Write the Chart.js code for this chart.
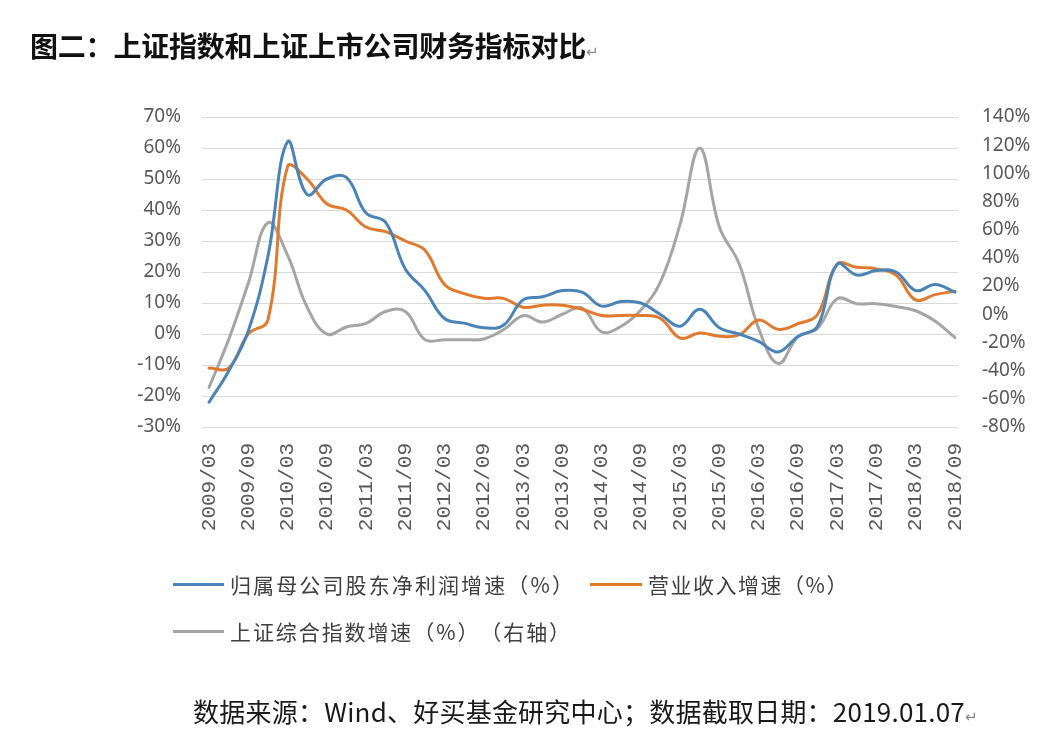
<!DOCTYPE html>
<html>
<head>
<meta charset="utf-8">
<script src="https://cdn.jsdelivr.net/npm/chart.js@4.4.1/dist/chart.umd.min.js"></script>
<style>
  html, body { margin: 0; padding: 0; background: #ffffff; }
  #wrap { position: relative; width: 1060px; height: 738px; overflow: hidden; background: #fff; text-spacing-trim: space-all; }
  #c { position: absolute; left: 0; top: 0; }
  .txt { position: absolute; white-space: nowrap; line-height: 1; font-family: "Noto Sans CJK SC", sans-serif; }
  #title { left: 30px; top: 31px; font-size: 28px; font-weight: 700; color: #111; }
  #footer { left: 193px; top: 698px; font-size: 26px; color: #1a1a1a; }
  .ret { font-family: "DejaVu Sans", sans-serif; font-size: 15px; color: #888; font-weight: 400; letter-spacing: 0; }
  .leg { position: absolute; white-space: nowrap; font-family: "Noto Sans CJK SC", sans-serif; font-size: 21px; color: #404040; line-height: 22px; height: 22px; }
  .sw { position: absolute; height: 3px; }
</style>
</head>
<body>
<div id="wrap">
  <canvas id="c" width="1060" height="738"></canvas>
  <div id="title" class="txt"><span class="fit" data-w="556">图二：上证指数和上证上市公司财务指标对比</span><span class="ret">↵</span></div>
  <div id="legend"></div>
  <div id="footer" class="txt"><span class="fit" data-w="772">数据来源：Wind、好买基金研究中心；数据截取日期：2019.01.07</span><span class="ret">↵</span></div>
</div>
<script>
// Quarterly periods 2009/03 .. 2018/09
const periods = [
  "2009/03","2009/06","2009/09","2009/12",
  "2010/03","2010/06","2010/09","2010/12",
  "2011/03","2011/06","2011/09","2011/12",
  "2012/03","2012/06","2012/09","2012/12",
  "2013/03","2013/06","2013/09","2013/12",
  "2014/03","2014/06","2014/09","2014/12",
  "2015/03","2015/06","2015/09","2015/12",
  "2016/03","2016/06","2016/09","2016/12",
  "2017/03","2017/06","2017/09","2017/12",
  "2018/03","2018/06","2018/09"
];
// labelled ticks (every half year)
const tickLabels = ["2009/03","2009/09","2010/03","2010/09","2011/03","2011/09","2012/03","2012/09",
  "2013/03","2013/09","2014/03","2014/09","2015/03","2015/09","2016/03","2016/09","2017/03","2017/09",
  "2018/03","2018/09"];

// 归属母公司股东净利润增速（%） - left axis
const netProfitGrowth = [
  -22, -12, 1, 25,
  62, 45, 50, 50.5,
  39, 36, 21, 14,
  5, 3.5, 2, 2.8,
  11, 12, 14, 13.5,
  9, 10.5, 10, 6.3,
  2.5, 8, 2, 0,
  -2.4, -5.8, -0.8, 2.5,
  22.5, 19, 20.5, 20,
  14, 16, 13.5
];
// 营业收入增速（%） - left axis
const revenueGrowth = [
  -11, -11, 0, 4.5,
  54, 50, 42, 40,
  34.5, 33, 30, 27,
  16, 13, 11.5, 11.5,
  8.6, 9.3, 9.3, 8,
  6, 6, 6, 5,
  -1.3, 0.3, -0.7, -0.3,
  4.5, 1.5, 3.3, 6.3,
  22.5, 21.5, 21, 19,
  11, 12.7, 13.8
];
// 上证综合指数增速（%）（右轴） - right axis
const sseIndexGrowth = [
  -52, -18, 22, 65,
  42, 5, -14, -9,
  -6.5, 2, 2, -18,
  -18, -18, -17.5, -11,
  -1, -5.5, 0, 4.5,
  -12.5, -8.5, 3, 23,
  64, 118, 62, 36,
  -10, -35, -16, -10,
  11, 7.5, 7.5, 5.5,
  2.5, -5, -16.6
];

const seriesNames = ["归属母公司股东净利润增速（%）", "营业收入增速（%）", "上证综合指数增速（%）（右轴）"];
const seriesColors = ["#4a84b6", "#e07a2f", "#a5a5a5"];

const leftTicks = [-30, 70, 10];
const rightTicks = [-80, 140, 20];

function toXY(arr) { return arr.map((v, i) => ({ x: i, y: v })); }

const tickFontAxis = { family: "'Noto Sans', sans-serif", size: 19 };

const chart = new Chart(document.getElementById('c'), {
  type: 'line',
  data: {
    datasets: [
      { label: seriesNames[0], data: toXY(netProfitGrowth), borderColor: seriesColors[0], yAxisID: 'y', order: 1 },
      { label: seriesNames[1], data: toXY(revenueGrowth), borderColor: seriesColors[1], yAxisID: 'y', order: 2 },
      { label: seriesNames[2], data: toXY(sseIndexGrowth), borderColor: seriesColors[2], yAxisID: 'y1', order: 3 }
    ]
  },
  options: {
    responsive: false,
    devicePixelRatio: 1,
    animation: false,
    layout: { padding: { top: 117, left: 0, right: 0, bottom: 0 } },
    elements: {
      line: { borderWidth: 3, tension: 0.4, fill: false, borderCapStyle: 'round', borderJoinStyle: 'round' },
      point: { radius: 0, hoverRadius: 0 }
    },
    plugins: { legend: { display: false }, tooltip: { enabled: false }, title: { display: false } },
    scales: {
      x: {
        type: 'linear',
        min: -0.357,
        max: 38.156,
        grid: { display: false, drawTicks: false },
        border: { display: false },
        afterBuildTicks: (s) => { s.ticks = tickLabels.map(l => ({ value: periods.indexOf(l) })); },
        afterFit: (s) => { s.height = 738 - 427; },
        ticks: {
          autoSkip: false,
          minRotation: 90,
          maxRotation: 90,
          padding: 16,
          color: '#595959',
          font: { family: "'Liberation Mono', monospace", size: 21 },
          callback: (v) => periods[v]
        }
      },
      y: {
        position: 'left',
        min: leftTicks[0], max: leftTicks[1],
        grid: { color: '#d9d9d9', lineWidth: 1, drawTicks: false },
        border: { display: false },
        afterFit: (s) => { s.width = 202; },
        ticks: { stepSize: leftTicks[2], padding: 21, color: '#595959', font: tickFontAxis, callback: (v) => v + '%' }
      },
      y1: {
        position: 'right',
        min: rightTicks[0], max: rightTicks[1],
        grid: { display: false, drawTicks: false },
        border: { display: false },
        afterFit: (s) => { s.width = 1060 - 958; },
        ticks: { stepSize: rightTicks[2], padding: 24, color: '#595959', font: tickFontAxis, callback: (v) => v + '%' }
      }
    }
  }
});

// HTML legend built from series names/colors: [swatchLeft, swatchRight, textLeft, textWidth, centerY]
const legendLayout = [[173, 224, 230, 345, 584], [590, 642, 648, 201, 584], [173, 224, 230, 342, 631]];
const legendEl = document.getElementById('legend');
seriesNames.forEach((name, i) => {
  const L = legendLayout[i];
  const sw = document.createElement('div');
  sw.className = 'sw';
  sw.style.left = L[0] + 'px';
  sw.style.width = (L[1] - L[0]) + 'px';
  sw.style.top = (L[4] - 1.5) + 'px';
  sw.style.background = seriesColors[i];
  legendEl.appendChild(sw);
  const t = document.createElement('div');
  t.className = 'leg';
  t.style.left = L[2] + 'px';
  t.style.top = (L[4] - 11) + 'px';
  const s = document.createElement('span');
  s.className = 'fit';
  s.dataset.w = L[3];
  s.textContent = name;
  t.appendChild(s);
  legendEl.appendChild(t);
});

function fitTexts() {
  document.querySelectorAll('.fit').forEach(el => {
    el.style.letterSpacing = '0px';
    const w = el.getBoundingClientRect().width;
    const n = [...el.textContent].length;
    const target = parseFloat(el.dataset.w);
    el.style.letterSpacing = ((target - w) / n) + 'px';
  });
}
fitTexts();
if (document.fonts && document.fonts.ready) document.fonts.ready.then(fitTexts);
</script>
</body>
</html>
